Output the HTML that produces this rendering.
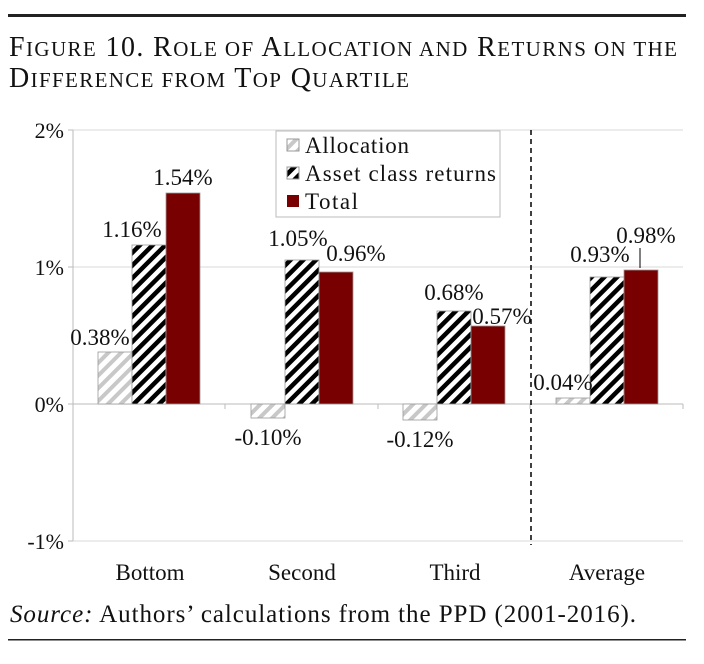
<!DOCTYPE html>
<html><head><style>
body{margin:0;background:#fff;}
svg text{font-family:"Liberation Serif",serif;fill:#111;}
</style></head><body>
<svg width="704" height="659" xmlns="http://www.w3.org/2000/svg">
<defs>
<pattern id="ga" patternUnits="userSpaceOnUse" width="9" height="9" patternTransform="rotate(45)">
<rect width="9" height="9" fill="#fff"/><rect width="4" height="9" fill="#c8c8c8"/></pattern>
<pattern id="gb" patternUnits="userSpaceOnUse" width="9" height="9" patternTransform="rotate(45)">
<rect width="9" height="9" fill="#fff"/><rect width="4.5" height="9" fill="#000"/></pattern>
</defs>
<rect x="8" y="14" width="678" height="3" fill="#222"/>
<text x="9" y="56" font-size="28" textLength="668" lengthAdjust="spacing">F<tspan font-size="21">IGURE</tspan> 10. R<tspan font-size="21">OLE OF</tspan> A<tspan font-size="21">LLOCATION AND</tspan> R<tspan font-size="21">ETURNS ON THE</tspan></text>
<text x="9" y="87" font-size="28" textLength="400" lengthAdjust="spacing">D<tspan font-size="21">IFFERENCE FROM</tspan> T<tspan font-size="21">OP</tspan> Q<tspan font-size="21">UARTILE</tspan></text>
<g stroke="#d9d9d9" stroke-width="1">
<line x1="73" y1="130" x2="683" y2="130"/><line x1="73" y1="267" x2="683" y2="267"/><line x1="73" y1="541" x2="683" y2="541"/>
</g>
<line x1="73" y1="130" x2="73" y2="541" stroke="#bbb"/>
<line x1="73" y1="404" x2="683" y2="404" stroke="#bbb"/>
<g stroke="#bbb"><line x1="68" y1="130" x2="73" y2="130"/><line x1="68" y1="267" x2="73" y2="267"/><line x1="68" y1="404" x2="73" y2="404"/><line x1="68" y1="541" x2="73" y2="541"/>
<line x1="225" y1="404" x2="225" y2="409"/><line x1="378" y1="404" x2="378" y2="409"/><line x1="530" y1="404" x2="530" y2="409"/><line x1="683" y1="404" x2="683" y2="409"/></g>
<g font-size="22" text-anchor="end"><text x="64" y="138">2%</text><text x="64" y="275">1%</text><text x="64" y="412">0%</text><text x="64" y="549">-1%</text></g>
<line x1="531" y1="130" x2="531" y2="545" stroke="#000" stroke-width="1.5" stroke-dasharray="5,4"/>
<g stroke="#999" stroke-width="0.8">
<rect x="98" y="352" width="34" height="52" fill="url(#ga)"/>
<rect x="132" y="245" width="34" height="159" fill="url(#gb)"/>
<rect x="166" y="193" width="34" height="211" fill="#780000"/>
<rect x="251" y="404" width="34" height="14" fill="url(#ga)"/>
<rect x="285" y="260" width="34" height="144" fill="url(#gb)"/>
<rect x="319" y="272" width="34" height="132" fill="#780000"/>
<rect x="403" y="404" width="34" height="16" fill="url(#ga)"/>
<rect x="437" y="311" width="34" height="93" fill="url(#gb)"/>
<rect x="471" y="326" width="34" height="78" fill="#780000"/>
<rect x="556" y="398" width="34" height="6" fill="url(#ga)"/>
<rect x="590" y="277" width="34" height="127" fill="url(#gb)"/>
<rect x="624" y="270" width="34" height="134" fill="#780000"/>
</g>
<g font-size="23" text-anchor="middle">
<text x="100" y="345">0.38%</text><text x="132" y="237">1.16%</text><text x="183" y="185">1.54%</text>
<text x="268" y="445">-0.10%</text><text x="298" y="246">1.05%</text><text x="356" y="261">0.96%</text>
<text x="420" y="447">-0.12%</text><text x="454" y="300">0.68%</text><text x="502" y="324">0.57%</text>
<text x="563" y="390">0.04%</text><text x="600" y="262">0.93%</text><text x="646" y="243">0.98%</text>
</g>
<line x1="640" y1="248" x2="640" y2="268" stroke="#000"/>
<rect x="276" y="131" width="224" height="86" fill="#fff" stroke="#bbb"/>
<rect x="287" y="139" width="12" height="12" fill="url(#ga)" stroke="#999"/>
<rect x="287" y="167" width="12" height="12" fill="url(#gb)" stroke="#999"/>
<rect x="287" y="195" width="12" height="12" fill="#780000"/>
<g font-size="23"><text x="305" y="153" textLength="104">Allocation</text><text x="305" y="181" textLength="191">Asset class returns</text><text x="305" y="209" textLength="53">Total</text></g>
<g font-size="23" text-anchor="middle"><text x="150" y="580">Bottom</text><text x="302" y="580">Second</text><text x="455" y="580">Third</text><text x="607" y="580">Average</text></g>
<text x="10" y="622" font-size="25" textLength="626"><tspan font-style="italic">Source:</tspan> Authors’ calculations from the PPD (2001-2016).</text>
<rect x="8" y="639" width="678" height="1.5" fill="#222"/>
</svg>
</body></html>
